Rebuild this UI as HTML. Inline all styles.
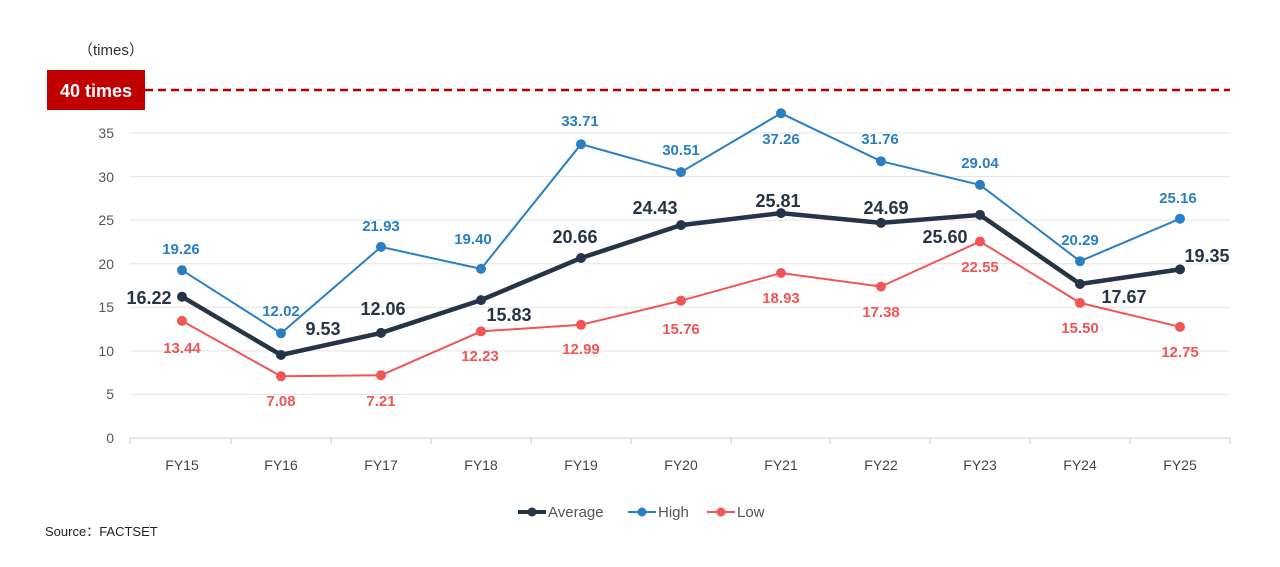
<!DOCTYPE html>
<html><head><meta charset="utf-8"><style>
body{margin:0;background:#fff;}
svg{display:block;font-family:"Liberation Sans",sans-serif;}
</style></head><body>
<svg width="1280" height="567" viewBox="0 0 1280 567">
<g stroke="#e3e3e3" stroke-width="1">
<line x1="130" x2="1230" y1="133" y2="133"/>
<line x1="130" x2="1230" y1="176.6" y2="176.6"/>
<line x1="130" x2="1230" y1="220.1" y2="220.1"/>
<line x1="130" x2="1230" y1="263.7" y2="263.7"/>
<line x1="130" x2="1230" y1="307.3" y2="307.3"/>
<line x1="130" x2="1230" y1="350.9" y2="350.9"/>
<line x1="130" x2="1230" y1="394.4" y2="394.4"/>
</g>
<line x1="130" x2="1230" y1="438" y2="438" stroke="#ccc"/>
<g stroke="#ccc"><line x1="130" x2="130" y1="438" y2="444"/><line x1="231" x2="231" y1="438" y2="444"/><line x1="331" x2="331" y1="438" y2="444"/><line x1="431" x2="431" y1="438" y2="444"/><line x1="531" x2="531" y1="438" y2="444"/><line x1="631" x2="631" y1="438" y2="444"/><line x1="731" x2="731" y1="438" y2="444"/><line x1="830" x2="830" y1="438" y2="444"/><line x1="930" x2="930" y1="438" y2="444"/><line x1="1030" x2="1030" y1="438" y2="444"/><line x1="1130" x2="1130" y1="438" y2="444"/><line x1="1230" x2="1230" y1="438" y2="444"/></g>
<g fill="#555" font-size="14" text-anchor="end">
<text x="114" y="138">35</text><text x="114" y="182">30</text><text x="114" y="225">25</text><text x="114" y="269">20</text><text x="114" y="312">15</text><text x="114" y="356">10</text><text x="114" y="399">5</text><text x="114" y="443">0</text>
</g>
<text x="78" y="55" fill="#333" font-size="15">（times）</text>
<line x1="145" x2="1230" y1="90" y2="90" stroke="#b40000" stroke-width="2.5" stroke-dasharray="8,5"/>
<rect x="47" y="70" width="98" height="40" fill="#c00000"/>
<text x="96" y="97" fill="#fff" font-size="18" font-weight="bold" text-anchor="middle">40 times</text>
<g fill="#444" font-size="14" text-anchor="middle">
<text x="182" y="470">FY15</text><text x="281" y="470">FY16</text><text x="381" y="470">FY17</text><text x="481" y="470">FY18</text><text x="581" y="470">FY19</text><text x="681" y="470">FY20</text><text x="781" y="470">FY21</text><text x="881" y="470">FY22</text><text x="980" y="470">FY23</text><text x="1080" y="470">FY24</text><text x="1180" y="470">FY25</text>
</g>
<polyline fill="none" stroke="#f25555" stroke-width="2" points="182,320.9 281,376.3 381,375.2 481,331.4 581,324.8 681,300.7 781,273.0 881,286.6 980,241.5 1080,302.9 1180,326.9"/>
<polyline fill="none" stroke="#2a7fc4" stroke-width="2" points="182,270.2 281,333.3 381,246.9 481,268.9 581,144.2 681,172.1 781,113.3 881,161.2 980,184.9 1080,261.2 1180,218.7"/>
<polyline fill="none" stroke="#253447" stroke-width="4.5" points="182,296.7 281,355.0 381,332.9 481,300.1 581,258.0 681,225.1 781,213.1 881,222.9 980,214.9 1080,284.0 1180,269.4"/>
<g fill="#f25555"><circle cx="182" cy="320.9" r="5"/><circle cx="281" cy="376.3" r="5"/><circle cx="381" cy="375.2" r="5"/><circle cx="481" cy="331.4" r="5"/><circle cx="581" cy="324.8" r="5"/><circle cx="681" cy="300.7" r="5"/><circle cx="781" cy="273" r="5"/><circle cx="881" cy="286.6" r="5"/><circle cx="980" cy="241.5" r="5"/><circle cx="1080" cy="302.9" r="5"/><circle cx="1180" cy="326.9" r="5"/></g>
<g fill="#2a7fc4"><circle cx="182" cy="270.2" r="5"/><circle cx="281" cy="333.3" r="5"/><circle cx="381" cy="246.9" r="5"/><circle cx="481" cy="268.9" r="5"/><circle cx="581" cy="144.2" r="5"/><circle cx="681" cy="172.1" r="5"/><circle cx="781" cy="113.3" r="5"/><circle cx="881" cy="161.2" r="5"/><circle cx="980" cy="184.9" r="5"/><circle cx="1080" cy="261.2" r="5"/><circle cx="1180" cy="218.7" r="5"/></g>
<g fill="#253447"><circle cx="182" cy="296.7" r="5"/><circle cx="281" cy="355" r="5"/><circle cx="381" cy="332.9" r="5"/><circle cx="481" cy="300.1" r="5"/><circle cx="581" cy="258" r="5"/><circle cx="681" cy="225.1" r="5"/><circle cx="781" cy="213.1" r="5"/><circle cx="881" cy="222.9" r="5"/><circle cx="980" cy="214.9" r="5"/><circle cx="1080" cy="284" r="5"/><circle cx="1180" cy="269.4" r="5"/></g>
<g fill="#2a7fc4" font-size="15" font-weight="bold" text-anchor="middle">
<text x="181" y="254">19.26</text><text x="281" y="316">12.02</text><text x="381" y="231">21.93</text><text x="473" y="244">19.40</text><text x="580" y="126">33.71</text><text x="681" y="155">30.51</text><text x="781" y="144">37.26</text><text x="880" y="144">31.76</text><text x="980" y="168">29.04</text><text x="1080" y="245">20.29</text><text x="1178" y="203">25.16</text>
</g>
<g fill="#f25555" font-size="15" font-weight="bold" text-anchor="middle">
<text x="182" y="353">13.44</text><text x="281" y="406">7.08</text><text x="381" y="406">7.21</text><text x="480" y="361">12.23</text><text x="581" y="354">12.99</text><text x="681" y="334">15.76</text><text x="781" y="303">18.93</text><text x="881" y="317">17.38</text><text x="980" y="272">22.55</text><text x="1080" y="333">15.50</text><text x="1180" y="357">12.75</text>
</g>
<g fill="#253447" font-size="18" font-weight="bold" text-anchor="middle">
<text x="149" y="304">16.22</text><text x="323" y="335">9.53</text><text x="383" y="315">12.06</text><text x="509" y="321">15.83</text><text x="575" y="243">20.66</text><text x="655" y="214">24.43</text><text x="778" y="207">25.81</text><text x="886" y="214">24.69</text><text x="945" y="243">25.60</text><text x="1124" y="303">17.67</text><text x="1207" y="262">19.35</text>
</g>
<line x1="518" x2="546" y1="512" y2="512" stroke="#253447" stroke-width="4"/><circle cx="532" cy="512" r="4.5" fill="#253447"/>
<text x="548" y="517" fill="#555" font-size="15">Average</text>
<line x1="628" x2="656" y1="512" y2="512" stroke="#2a7fc4" stroke-width="2"/><circle cx="642" cy="512" r="4.5" fill="#2a7fc4"/>
<text x="658" y="517" fill="#555" font-size="15">High</text>
<line x1="707" x2="735" y1="512" y2="512" stroke="#f25555" stroke-width="2"/><circle cx="721" cy="512" r="4.5" fill="#f25555"/>
<text x="737" y="517" fill="#555" font-size="15">Low</text>
<text x="45" y="536" fill="#222" font-size="13">Source：FACTSET</text>
</svg>
</body></html>
